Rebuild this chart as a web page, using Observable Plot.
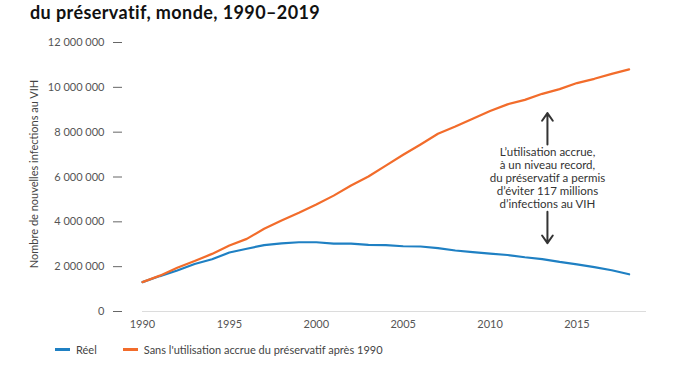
<!DOCTYPE html>
<html>
<head>
<meta charset="utf-8">
<script src="https://cdn.jsdelivr.net/npm/d3@7"></script>
<script src="https://cdn.jsdelivr.net/npm/@observablehq/plot@0.6"></script>
<style>
  body { margin: 0; background: #fff; width: 675px; height: 375px; overflow: hidden; position: relative; font-family: Lato, "Open Sans", sans-serif; }
  #title { position: absolute; left: 30px; top: 1px; font-weight: 700; font-size: 18px; letter-spacing: 0.4px; line-height: 22px; color: #111; white-space: nowrap; }
  #chart { position: absolute; left: 0; top: 0; }
  #legend { position: absolute; left: 55px; top: 343px; font-size: 11px; color: #444; display: flex; align-items: center; }
  .sw { display: inline-block; width: 15px; height: 3px; margin-right: 6px; }
  .item { display: flex; align-items: center; margin-right: 26px; }
</style>
</head>
<body>
<div id="title">du préservatif, monde, 1990–2019</div>
<div id="chart"></div>
<div id="legend"></div>
<script>
const years = [1990,1991,1992,1993,1994,1995,1996,1997,1998,1999,2000,2001,2002,2003,2004,2005,2006,2007,2008,2009,2010,2011,2012,2013,2014,2015,2016,2017,2018];
const reel = [1.31e6,1.58e6,1.83e6,2.12e6,2.33e6,2.63e6,2.80e6,2.96e6,3.04e6,3.09e6,3.09e6,3.03e6,3.03e6,2.97e6,2.96e6,2.91e6,2.90e6,2.83e6,2.72e6,2.65e6,2.58e6,2.52e6,2.42e6,2.34e6,2.21e6,2.10e6,1.98e6,1.84e6,1.66e6];
const sans = [1.31e6,1.60e6,1.95e6,2.25e6,2.57e6,2.94e6,3.24e6,3.69e6,4.06e6,4.40e6,4.77e6,5.17e6,5.62e6,6.02e6,6.51e6,6.99e6,7.45e6,7.93e6,8.25e6,8.60e6,8.94e6,9.24e6,9.44e6,9.71e6,9.92e6,10.19e6,10.38e6,10.60e6,10.80e6];
const seriesNames = ["Réel", "Sans l'utilisation accrue du préservatif après 1990"];
const seriesColors = ["#1f80c3", "#f26c2b"];
const yTicks = [0, 2e6, 4e6, 6e6, 8e6, 10e6, 12e6];
const xTicks = [1990, 1995, 2000, 2005, 2010, 2015];
const yLabel = "Nombre de nouvelles infections au VIH";
const noteLines = ["L’utilisation accrue,", "à un niveau record,", "du préservatif a permis", "d’éviter 117 millions", "d’infections au VIH"];
const noteX = 2013.3;
const noteY = 5.95e6;
const arrowUp = [7.45e6, 8.85e6];
const arrowDown = [4.45e6, 3.05e6];

const rows = [];
years.forEach((y, i) => {
  rows.push({year: y, value: reel[i], series: seriesNames[0]});
  rows.push({year: y, value: sans[i], series: seriesNames[1]});
});
const fmt = d => d3.format(",")(d).replace(/,/g, " ");

const plot = Plot.plot({
  width: 675,
  height: 340,
  marginLeft: 142,
  marginRight: 29,
  marginTop: 42,
  marginBottom: 29,
  style: {fontFamily: "Lato, 'Open Sans', sans-serif", fontSize: "11px", color: "#555", background: "transparent"},
  x: {domain: [1990, 2019]},
  y: {domain: [0, 12e6]},
  color: {domain: seriesNames, range: seriesColors},
  marks: [
    Plot.ruleY([0], {stroke: "#dcdcdc", strokeWidth: 1}),
    Plot.axisY({ticks: yTicks, tickFormat: fmt, tickSize: 9, tickPadding: 9, dx: -20, stroke: "#666", label: null, fill: "#555"}),
    Plot.axisX({ticks: xTicks, tickFormat: d => String(d), tickSize: 0, tickPadding: 9, label: null, fill: "#555"}),
    Plot.line(rows, {x: "year", y: "value", z: "series", stroke: "series", strokeWidth: 2.2}),
    Plot.text([noteLines.join("\n")], {x: noteX, y: noteY, text: d => d, lineAnchor: "middle", textAnchor: "middle", lineHeight: 1.12, fontSize: 11.5, fill: "#333"}),
    Plot.arrow([{y1: arrowUp[0], y2: arrowUp[1]}, {y1: arrowDown[0], y2: arrowDown[1]}], {x1: () => noteX, x2: () => noteX, y1: "y1", y2: "y2", stroke: "#333", strokeWidth: 2, headLength: 7, headAngle: 70})
  ]
});
document.getElementById("chart").appendChild(plot);

// rotated y-axis title
d3.select(plot).append("text")
  .attr("transform", "translate(38,174) rotate(-90)")
  .attr("text-anchor", "middle")
  .attr("font-size", 11)
  .attr("fill", "#444")
  .text(yLabel);

const legend = d3.select("#legend");
seriesNames.forEach((n, i) => {
  const it = legend.append("div").attr("class", "item");
  it.append("span").attr("class", "sw").style("background", seriesColors[i]);
  it.append("span").text(n);
});
</script>
</body>
</html>
